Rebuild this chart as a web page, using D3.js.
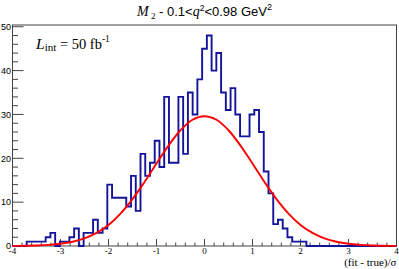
<!DOCTYPE html>
<html><head><meta charset="utf-8">
<script src="https://cdn.jsdelivr.net/npm/d3@7"></script>
<style>body{margin:0;background:#fff;overflow:hidden}</style>
</head><body>
<svg id="c" width="399" height="269"></svg>
<script>
// ---- data ----
const binLow = -4, binHigh = 4;
const counts = [0,0,0,1,1,1,1,2,3,0,1,1,2,4,0,3,3,6,3,4,
                14,11,11,11,9,16,8,21,16,19,24,18,34,19,19,34,21,35,30,38,
                45,48,40,44,35,31,36,30,25,25,30,31,26,17,12,5,6,4,2,1,
                1,1,0,0,0,0,0,0,0,0,0,0,0,0,0,0,0,0,0,0,0];
const curveX = [-4,-3.75,-3.5,-3.25,-3,-2.75,-2.5,-2.25,-2,-1.75,-1.5,-1.25,-1,-0.75,-0.5,-0.25,0,
                0.25,0.5,0.75,1,1.25,1.5,1.75,2,2.25,2.5,2.75,3,3.25,3.5,3.75,4];
const curveY = [0.02,0.05,0.11,0.25,0.5,0.96,1.74,2.98,4.8,7.4,10.7,14.6,18.8,22.9,26.4,28.8,29.6,
                28.8,26.4,22.9,18.8,14.6,10.7,7.4,4.8,2.98,1.74,0.96,0.5,0.25,0.11,0.05,0.02];
const xMajor = [-4,-3,-2,-1,0,1,2,3,4];
const xTickLabels = ["-4","-3","-2","-1","0","1","2","3","4"];
const yMajor = [0,10,20,30,40,50];
const yTickLabels = ["0","10","20","30","40","50"];

// ---- drawing ----
const svg = d3.select("#c");
svg.append("rect").attr("width",399).attr("height",269).attr("fill","#fff");
const x = d3.scaleLinear().domain([-4,4]).range([12.5,396.5]);
const y = d3.scaleLinear().domain([0,50.4]).range([246,25]);
const axisCol = "#444";

// frame
svg.append("rect").attr("x",x(-4)).attr("y",y(50.4)).attr("width",x(4)-x(-4)).attr("height",y(0)-y(50.4))
  .attr("fill","none").attr("stroke",axisCol).attr("stroke-width",1);

// y ticks
const yMinor = d3.range(0,50.01,2).filter(v=>v%10!==0);
svg.selectAll(".ymaj").data(yMajor).join("line")
  .attr("x1",x(-4)).attr("x2",x(-4)+11).attr("y1",d=>y(d)).attr("y2",d=>y(d))
  .attr("stroke",axisCol).attr("stroke-width",1);
svg.selectAll(".ymin").data(yMinor).join("line")
  .attr("x1",x(-4)).attr("x2",x(-4)+5.5).attr("y1",d=>y(d)).attr("y2",d=>y(d))
  .attr("stroke",axisCol).attr("stroke-width",1);
svg.selectAll(".ylab").data(yMajor).join("text")
  .attr("x",x(-4)-1.5).attr("y",d=>y(d)+3.2).attr("text-anchor","end")
  .attr("font-family","Liberation Sans, Arial, sans-serif").attr("font-size",9).attr("fill","#000")
  .text((d,i)=>yTickLabels[i]);

// x ticks
const xMinor = d3.range(-4,4.001,0.2).filter(v=>Math.abs(v-Math.round(v))>1e-6);
svg.selectAll(".xmaj").data(xMajor).join("line")
  .attr("x1",d=>x(d)).attr("x2",d=>x(d)).attr("y1",y(0)).attr("y2",y(0)-7)
  .attr("stroke",axisCol).attr("stroke-width",1);
svg.selectAll(".xmin").data(xMinor).join("line")
  .attr("x1",d=>x(d)).attr("x2",d=>x(d)).attr("y1",y(0)).attr("y2",y(0)-3.5)
  .attr("stroke",axisCol).attr("stroke-width",1);
svg.selectAll(".xlab").data(xMajor).join("text")
  .attr("x",d=>x(d)).attr("y",253.5).attr("text-anchor","middle")
  .attr("font-family","Liberation Serif, Times New Roman, serif").attr("font-size",9).attr("fill","#000")
  .text((d,i)=>xTickLabels[i]);

// histogram (step outline)
const bw = (binHigh-binLow)/counts.length;
let pts = [[binLow,0]];
counts.forEach((c,i)=>{ pts.push([binLow+i*bw,c]); pts.push([binLow+(i+1)*bw,c]); });
pts.push([binHigh,0]);
svg.append("path").datum(pts)
  .attr("d", d3.line().x(d=>x(d[0])).y(d=>y(d[1])))
  .attr("fill","none").attr("stroke","#14149a").attr("stroke-width",1.9).attr("stroke-linejoin","miter");

// gaussian curve
svg.append("path").datum(curveX.map((v,i)=>[v,curveY[i]]))
  .attr("d", d3.line().x(d=>x(d[0])).y(d=>y(d[1])).curve(d3.curveCatmullRom))
  .attr("fill","none").attr("stroke","#ff0000").attr("stroke-width",1.9);

// x axis title
svg.append("text").attr("x",396.5).attr("y",265.5).attr("text-anchor","end")
  .attr("font-family","Liberation Serif, Times New Roman, serif").attr("font-size",11).attr("fill","#000")
  .text("(fit - true)/σ");

// title
const t = svg.append("text").attr("x",204.5).attr("y",16).attr("text-anchor","middle")
  .attr("font-family","Liberation Sans, Arial, sans-serif").attr("font-size",13).attr("fill","#000");
t.append("tspan").attr("font-family","Liberation Serif, serif").attr("font-style","italic").attr("font-size",14).text("M");
t.append("tspan").attr("font-family","Liberation Serif, serif").attr("font-size",9).attr("dy",2.5).text(" 2");
t.append("tspan").attr("dy",-2.5).text(" - 0.1<");
t.append("tspan").attr("font-family","Liberation Serif, serif").attr("font-style","italic").attr("font-size",14).text("q");
t.append("tspan").attr("font-size",8.5).attr("dy",-5).text("2");
t.append("tspan").attr("dy",5).text("<0.98 GeV");
t.append("tspan").attr("font-size",9).attr("dy",-6).text("2");

// luminosity label
const l = svg.append("text").attr("x",36).attr("y",48.5).attr("text-anchor","start")
  .attr("font-family","Liberation Serif, Times New Roman, serif").attr("font-size",14.5).attr("fill","#000");
l.append("tspan").attr("font-style","italic").attr("font-size",15.5).text("L");
l.append("tspan").attr("font-size",11).attr("dy",2.5).text("int");
l.append("tspan").attr("dy",-2.5).text(" = 50 fb");
l.append("tspan").attr("font-size",9.5).attr("dy",-6.5).text("-1");
</script>
</body></html>
